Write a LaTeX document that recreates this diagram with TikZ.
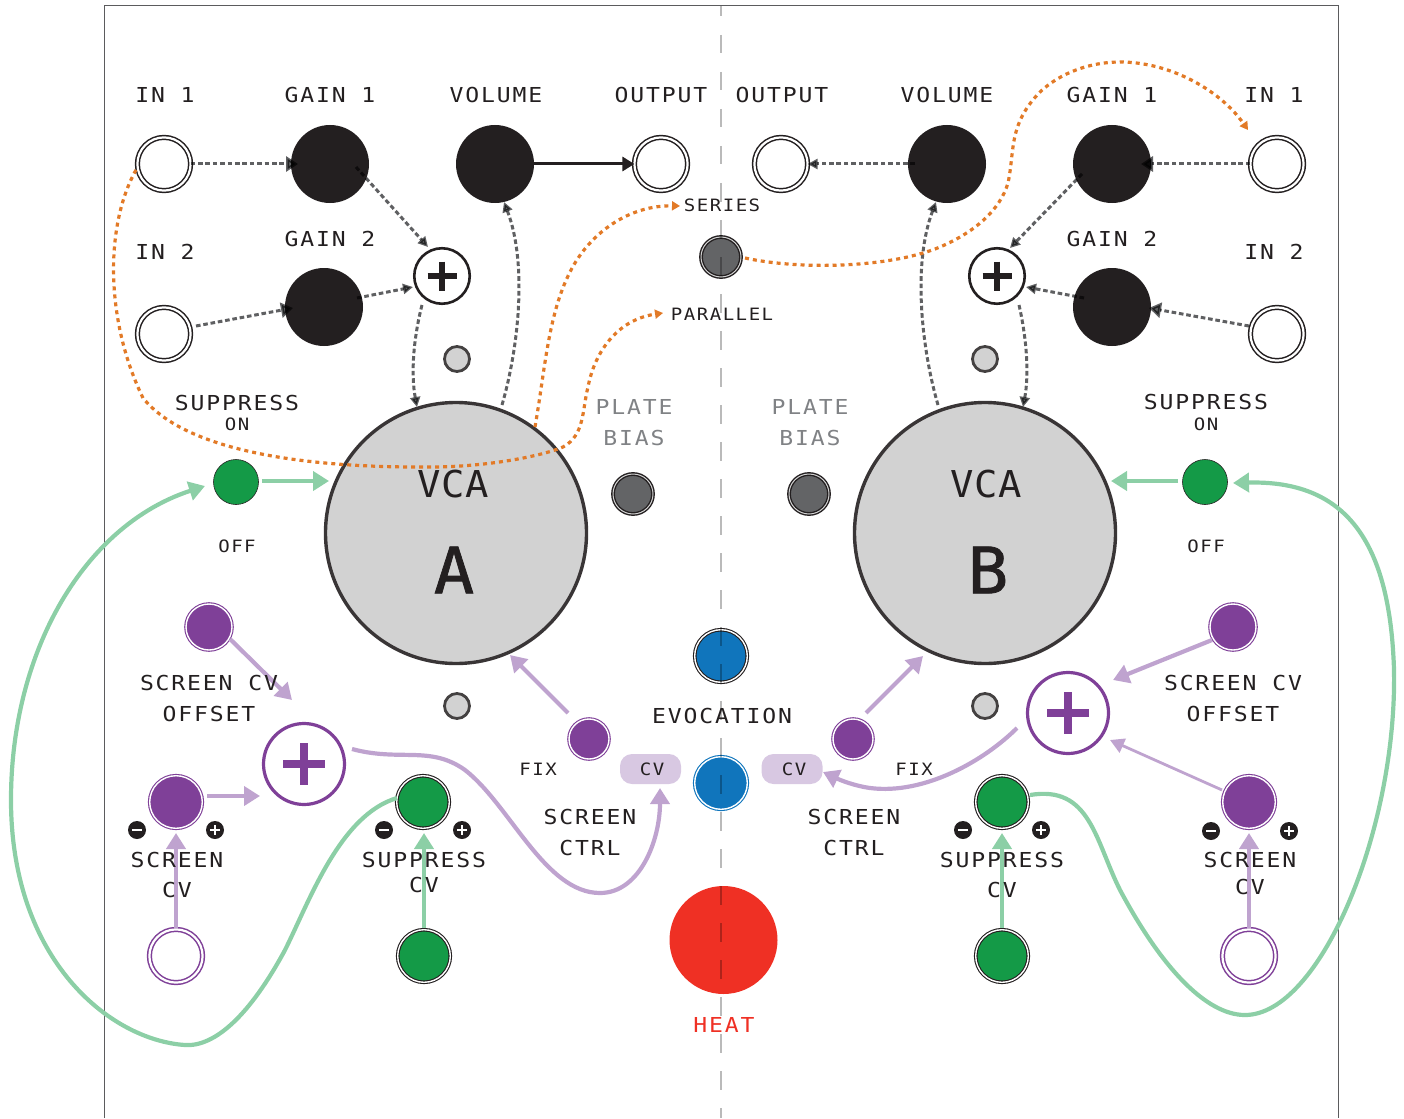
\documentclass[tikz,border=0pt]{standalone}
\usepackage{fontspec}
\usetikzlibrary{arrows.meta,calc}
\newfontfamily\labf[FakeStretch=1.12,LetterSpace=9]{DejaVu Sans Mono}
\newfontfamily\vcaf[FakeStretch=1.05,LetterSpace=2]{DejaVu Sans Mono}
\newfontfamily\bigf[FakeStretch=1.05,FakeBold=1.2]{DejaVu Sans Mono}
\definecolor{ink}{HTML}{231F20}
\definecolor{greyl}{HTML}{808285}
\definecolor{gn}{HTML}{149A47}
\definecolor{lgn}{HTML}{8CCFA6}
\definecolor{pu}{HTML}{7F4098}
\definecolor{lpu}{HTML}{BFA3CF}
\definecolor{bl}{HTML}{1075BC}
\definecolor{rd}{HTML}{EF3024}
\definecolor{orng}{HTML}{E27A27}
\definecolor{knobg}{HTML}{636466}
\definecolor{disc}{HTML}{D2D2D2}
\definecolor{pill}{HTML}{D8C8E2}
\definecolor{dotc}{HTML}{5F6062}
\tikzset{
  x=1pt,y=-1pt,
  base/.style={circle,inner sep=0,outer sep=0},
  jack/.style={base,minimum size=53.2pt,draw=ink,fill=white,line width=1.5pt,double=white,double distance=2.2pt},
  pjack/.style={jack,draw=pu},
  blk/.style={base,minimum size=78pt,fill=ink},
  sum/.style={base,minimum size=55.5pt,draw=ink,fill=white,line width=2.6pt},
  psum/.style={base,minimum size=81pt,draw=pu,fill=white,line width=3.2pt},
  led/.style={base,minimum size=25pt,draw=ink!85,fill=disc,line width=2.8pt},
  vca/.style={base,minimum size=261pt,draw=ink!90,fill=disc,line width=3.4pt},
  gknob/.style={base,minimum size=40pt,draw=ink,fill=knobg,line width=1.4pt,double=disc,double distance=1pt},
  pk/.style={base,minimum size=#1,draw=pu,fill=pu,line width=1.1pt,double=white,double distance=1.4pt},
  ring/.style 2 args={base,minimum size=52.6pt,draw=#1,fill=#2,line width=1.1pt,double=white,double distance=1.4pt},
  sw/.style={base,minimum size=45pt,fill=gn,draw=ink,line width=.6pt},
  badge/.style={base,minimum size=18pt,fill=ink},
  cvp/.style={rectangle,rounded corners=12pt,fill=pill,minimum width=61pt,minimum height=30pt,inner sep=0},
  lab/.style={inner sep=0,outer sep=0,text=ink,font=\labf\fontsize{20.6}{24}\selectfont},
  slab/.style={inner sep=0,outer sep=0,text=ink,font=\labf\fontsize{17}{20}\selectfont},
  dot/.style={dotc,line width=3pt,dash pattern=on 4.6pt off 2.8pt,-{Triangle[length=10pt,width=10pt]},blend mode=multiply},
  dotb/.style={dot,-{Triangle[length=12pt,width=15pt]}},
  orl/.style={orng,line width=3.2pt,dash pattern=on 4pt off 4pt,-{Triangle[length=8pt,width=9pt]}},
  gl/.style={lgn,line width=4.2pt,-{Triangle[length=16pt,width=19pt]}},
  pl1/.style={lpu,line width=4.2pt,-{Triangle[length=16pt,width=19pt]}},
  signp/.style={line width=8pt,draw=pu},
  signw/.style={line width=2.2pt,draw=white}
}
\newcommand{\badgeminus}[1]{\draw[signw] ($(#1)+(-5,0)$) -- ($(#1)+(5,0)$);}
\newcommand{\badgeplus}[1]{\draw[signw] ($(#1)+(-5,0)$) -- ($(#1)+(5,0)$);\draw[signw] ($(#1)+(0,-5)$) -- ($(#1)+(0,5)$);}
\begin{document}
\begin{tikzpicture}
\useasboundingbox (0,0) rectangle (1404,1118);
\draw[greyl!60!ink,line width=1pt] (104,1118) -- (104,6) -- (1338,6) -- (1338,1118);

% left top
\node[jack] (ina) at (164,164) {};
\node[jack] (inb) at (164,334) {};
\node[blk] (g1a) at (330,164) {};
\node[blk] (g2a) at (324,307) {};
\node[blk] (vola) at (495,164) {};
\node[jack] (outa) at (661,164) {};
\node[sum] (suma) at (442,276) {};
\node[led] (leda) at (457,359) {};
\node[led] (ledc) at (457,706) {};
\node[vca] (vcaa) at (456,533) {};
\node[gknob] (plata) at (633,494) {};
% right top
\node[jack] (outb) at (781,164) {};
\node[blk] (volb) at (947,164) {};
\node[blk] (g1b) at (1112,164) {};
\node[blk] (g2b) at (1112,307) {};
\node[jack] (inc) at (1277,164) {};
\node[jack] (ind) at (1277,334) {};
\node[sum] (sumb) at (997,276) {};
\node[led] (ledb) at (985,359) {};
\node[led] (ledd) at (985,706) {};
\node[vca] (vcab) at (985,533) {};
\node[gknob] (platb) at (809,494) {};
\node[gknob] (ser) at (721,257) {};
% suppress
\node[sw] (swa) at (236,482) {};
\node[sw] (swb) at (1205,482) {};
% left lower
\node[pk=46pt] (offa) at (209,627) {};
\node[psum] (psa) at (304,764) {};
\node[pk=52.6pt] (sca) at (176,802) {};
\node[ring={ink}{gn}] (spa) at (423,802) {};
\node[pjack] (iscra) at (176,956) {};
\node[ring={ink}{gn}] (ispa) at (424,956) {};
\node[pk=40pt] (fixa) at (589,739) {};
\node[badge] (ma) at (137,830) {};
\node[badge] (pa) at (215,830) {};
\node[badge] (mb) at (384,830) {};
\node[badge] (pb) at (462,830) {};
% centre
\node[ring={ink}{bl}] (evo) at (721,656) {};
\node[ring={bl}{bl}] (evc) at (721,783) {};
\node[base,minimum size=108pt,fill=rd] (heat) at (723.5,940) {};
\node[cvp] (cva) at (650.5,769) {};
\node[cvp] (cvb) at (792,769) {};
% right lower
\node[pk=46pt] (offb) at (1233,627) {};
\node[psum] (psb) at (1068,713) {};
\node[pk=52.6pt] (scb) at (1249,802) {};
\node[ring={ink}{gn}] (spb) at (1002,802) {};
\node[pjack] (iscrb) at (1249,956) {};
\node[ring={ink}{gn}] (ispb) at (1002,956) {};
\node[pk=40pt] (fixb) at (853,739) {};
\node[badge] (mc) at (963,830) {};
\node[badge] (pc) at (1041,830) {};
\node[badge] (md) at (1211,831) {};
\node[badge] (pd) at (1289,831) {};

% signs
\foreach \n in {ma,mb,mc,md} {\badgeminus{\n}}
\foreach \n in {pa,pb,pc,pd} {\badgeplus{\n}}
\foreach \n in {suma,sumb} {
  \draw[line width=6pt,draw=ink] ($(\n)+(-14.5,0)$) -- ($(\n)+(14.5,0)$);
  \draw[line width=6pt,draw=ink] ($(\n)+(0,-14.5)$) -- ($(\n)+(0,14.5)$);
}
\foreach \n in {psa,psb} {
  \draw[signp] ($(\n)+(-21,0)$) -- ($(\n)+(21,0)$);
  \draw[signp] ($(\n)+(0,-21)$) -- ($(\n)+(0,21)$);
}

% dotted grey connectors
\draw[dotb] (ina.east) -- ($(g1a)+(-32,0)$);
\draw[dotb] ($(inb)+(32,-8)$) -- ($(g2a)+(-31,1)$);
\draw[dot] ($(g1a)+(26,3)$) -- ($(suma)+(-14,-29)$);
\draw[dot] ($(g2a)+(33,-9)$) -- ($(suma)+(-29,11)$);
\draw[dot] ($(suma)+(-20,29)$) .. controls (413,340) and (411,375) .. ($(vcaa)+(-39,-126)$);
\draw[dot] ($(vcaa)+(46,-128)$) .. controls (518,350) and (528,265) .. ($(vola)+(9,38)$);
\draw[ink,line width=3pt,-{Triangle[length=12pt,width=14pt]}] ($(vola)+(28,0)$) -- (outa.west);
\draw[dot] ($(volb)+(-32,0)$) -- (outb.east);
\draw[dotb] (inc.west) -- ($(g1b)+(29,0)$);
\draw[dotb] ($(ind)+(-28,-8)$) -- ($(g2b)+(37,1)$);
\draw[dot] ($(g1b)+(-30,10)$) -- ($(sumb)+(13,-28)$);
\draw[dot] ($(g2b)+(-28,-9)$) -- ($(sumb)+(29,11)$);
\draw[dot] ($(sumb)+(22,29)$) .. controls (1027,340) and (1029,375) .. ($(vcab)+(38,-126)$);
\draw[dot] ($(vcab)+(-47,-128)$) .. controls (922,350) and (912,265) .. ($(volb)+(-11,38)$);

% orange
\draw[orl] ($(ina)+(-28,6)$) .. controls (105,225) and (105,320) .. (143,398)
  .. controls (185,450) and (300,468) .. (430,467)
  .. controls (490,467) and (545,455) .. (563,447)
  .. controls (585,435) and (582,410) .. (588,387)
  .. controls (594,355) and (615,320) .. (663,313);
\draw[orl] ($(vcaa)+(79,-106)$) .. controls (545,370) and (548,315) .. (570,272)
  .. controls (590,232) and (630,205) .. (680,206);
\draw[orl] ($(ser)+(24,1)$) .. controls (800,270) and (890,268) .. (940,247)
  .. controls (975,232) and (1000,210) .. (1008,183)
  .. controls (1015,150) and (1008,125) .. (1040,92)
  .. controls (1060,73) and (1090,62) .. (1120,62)
  .. controls (1170,62) and (1220,90) .. (1248,130);

% green
\draw[gl] ($(swa)+(26,-1)$) -- ($(vcaa)+(-127,-52)$);
\draw[gl] ($(swb)+(-27,-1)$) -- ($(vcab)+(126,-52)$);
\draw[gl] (ispa) ++(0,-28) -- ($(spa)+(1,31)$);
\draw[gl] (ispb) ++(0,-28) -- ($(spb)+(0,31)$);
\draw[gl] ($(spa)+(-26,-4)$) .. controls (340,815) and (310,900) .. (285,950)
  .. controls (250,1015) and (215,1047) .. (185,1045)
  .. controls (110,1040) and (11,960) .. (11,800)
  .. controls (11,650) and (85,525) .. (205,486);
\draw[gl] ($(spb)+(28,-7)$) .. controls (1090,785) and (1095,840) .. (1120,890)
  .. controls (1160,965) and (1205,1015) .. (1245,1015)
  .. controls (1320,1015) and (1397,830) .. (1394,670)
  .. controls (1390,540) and (1345,480) .. (1233,483);

% purple
\draw[pl1] ($(offa)+(21,12)$) -- ($(psa)+(-12,-64)$);
\draw[pl1] ($(sca)+(31,-6)$) -- ($(psa)+(-44,32)$);
\draw[pl1] (iscra) ++(0,-28) -- ($(sca)+(0,31)$);
\draw[pl1] (iscrb) ++(0,-28) -- ($(scb)+(0,31)$);
\draw[pl1] ($(fixa)+(-21,-26)$) -- ($(vcaa)+(54,122)$);
\draw[pl1] ($(fixb)+(13,-26)$) -- ($(vcab)+(-62,123)$);
\draw[pl1] ($(offb)+(-21,13)$) -- ($(psb)+(45,-33)$);
\draw[pl1,line width=2.8pt,-{Triangle[length=14pt,width=15pt]}] ($(scb)+(-27,-12)$) -- ($(psb)+(42,27)$);
\draw[pl1] ($(psa)+(48,-15)$) .. controls (400,762) and (430,745) .. (465,770)
  .. controls (510,805) and (545,893) .. (600,893)
  .. controls (640,893) and (660,840) .. ($(cva)+(9.5,19)$);
\draw[pl1] ($(psb)+(-51,15)$) .. controls (985,760) and (925,795) .. (870,788)
  .. controls (855,786) and (840,780) .. ($(cvb)+(31,3)$);

% centre line on top
\draw[black,opacity=.27,line width=2.6pt,dash pattern=on 18.5pt off 18.5pt,dash phase=8pt] (721,6) -- (721,1118);

% text
\node[lab] (t1) at (165,95) {IN 1};
\node[lab] (t2) at (330,95) {GAIN 1};
\node[lab] (t3) at (496,95) {VOLUME};
\node[lab] (t4) at (661,95) {OUTPUT};
\node[lab] (t5) at (782,95) {OUTPUT};
\node[lab] (t6) at (947,95) {VOLUME};
\node[lab] (t7) at (1112,95) {GAIN 1};
\node[lab] (t8) at (1274,95) {IN 1};
\node[lab] (t9) at (165,252) {IN 2};
\node[lab] (t10) at (330,239) {GAIN 2};
\node[lab] (t11) at (1112,239) {GAIN 2};
\node[lab] (t12) at (1274,252) {IN 2};
\node[lab] (t13) at (237,403) {SUPPRESS};
\node[slab] (t14) at (237,424) {ON};
\node[slab] (t15) at (237,546) {OFF};
\node[lab] (t16) at (1206,402) {SUPPRESS};
\node[slab] (t17) at (1206,424) {ON};
\node[slab] (t18) at (1206,546) {OFF};
\node[lab,text=greyl] (t19) at (634,407) {PLATE};
\node[lab,text=greyl] (t20) at (634,438) {BIAS};
\node[lab,text=greyl] (t21) at (810,407) {PLATE};
\node[lab,text=greyl] (t22) at (810,438) {BIAS};
\node[slab] (t23) at (722,205) {SERIES};
\node[slab] (t24) at (722,314) {PARALLEL};
\node[lab] (t25) at (209,683) {SCREEN CV};
\node[lab] (t26) at (209,714) {OFFSET};
\node[lab] (t27) at (1233,683) {SCREEN CV};
\node[lab] (t28) at (1233,714) {OFFSET};
\node[lab] (t29) at (177,860) {SCREEN};
\node[lab] (t30) at (177,890) {CV};
\node[lab] (t31) at (424,860) {SUPPRESS};
\node[lab] (t32) at (424,885) {CV};
\node[slab] (t33) at (538,769) {FIX};
\node[lab] (t34) at (590,817) {SCREEN};
\node[lab] (t35) at (590,848) {CTRL};
\node[lab] (t36) at (722,716) {EVOCATION};
\node[lab] (t37) at (854,817) {SCREEN};
\node[lab] (t38) at (854,848) {CTRL};
\node[slab] (t39) at (914,769) {FIX};
\node[lab] (t40) at (1002,860) {SUPPRESS};
\node[lab] (t41) at (1002,890) {CV};
\node[lab] (t42) at (1250,860) {SCREEN};
\node[lab] (t43) at (1250,887) {CV};
\node[lab,text=rd] (t44) at (724,1025) {HEAT};
\node[slab] (t45) at (652,769) {CV};
\node[slab] (t46) at (794,769) {CV};
\node[inner sep=0,text=ink,font=\vcaf\fontsize{37}{40}\selectfont] (t47) at (453,484) {VCA};
\node[inner sep=0,text=ink,font=\vcaf\fontsize{37}{40}\selectfont] (t48) at (986,484) {VCA};
\node[inner sep=0,text=ink,font=\bigf\fontsize{64}{70}\selectfont] (t49) at (454,570) {A};
\node[inner sep=0,text=ink,font=\bigf\fontsize{64}{70}\selectfont] (t50) at (988,570) {B};
\end{tikzpicture}
\end{document}
